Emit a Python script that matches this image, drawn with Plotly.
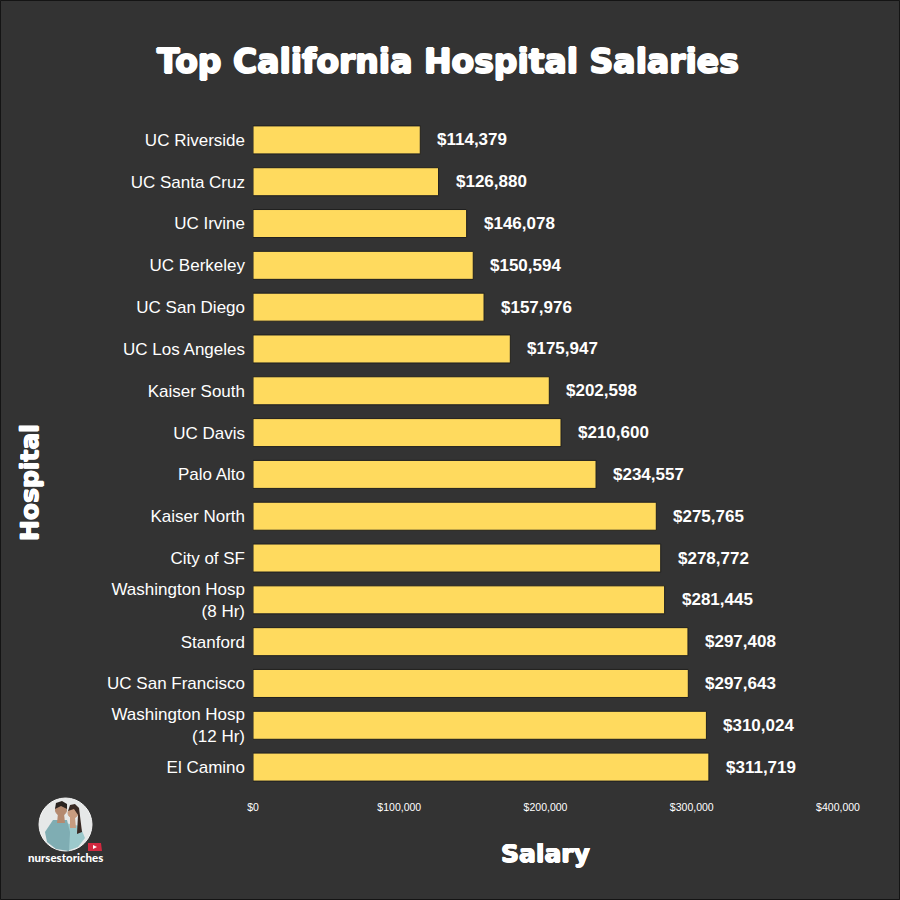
import plotly.graph_objects as go

hospitals = [
    "UC Riverside", "UC Santa Cruz", "UC Irvine", "UC Berkeley", "UC San Diego",
    "UC Los Angeles", "Kaiser South", "UC Davis", "Palo Alto", "Kaiser North",
    "City of SF", "Washington Hosp<br>(8 Hr)", "Stanford", "UC San Francisco",
    "Washington Hosp<br>(12 Hr)", "El Camino",
]
salaries = [
    114379, 126880, 146078, 150594, 157976, 175947, 202598, 210600,
    234557, 275765, 278772, 281445, 297408, 297643, 310024, 311719,
]
x_ticks = [0, 100000, 200000, 300000, 400000]

BG = "#333333"
BAR = "#ffda5e"
FONT = "Liberation Sans"
HEAVY = "1px 0 0 white, -1px 0 0 white, 0 1px 0 white, 0 -1px 0 white"
SEMI = "0.7px 0 0 white, -0.7px 0 0 white, 0 0.5px 0 white, 0 -0.5px 0 white"

# plot area in pixels, used only to place the logo and the axis titles
L, R, T, B = 253, 838, 119, 788


def px(x):
    return (x - L) / (R - L)


def py(y):
    return (B - y) / (B - T)


def circle(cx, cy, r, color, line=None):
    return dict(
        type="circle", xref="paper", yref="paper",
        x0=px(cx - r), x1=px(cx + r), y0=py(cy + r), y1=py(cy - r),
        fillcolor=color, line=dict(color=line or color, width=1),
    )


def poly(points, color):
    path = "M " + " L ".join(f"{px(x):.4f},{py(y):.4f}" for x, y in points) + " Z"
    return dict(
        type="path", xref="paper", yref="paper", path=path,
        fillcolor=color, line=dict(width=0),
    )


fig = go.Figure(
    go.Bar(
        x=salaries,
        y=hospitals,
        orientation="h",
        width=0.67,
        marker=dict(color=BAR, line=dict(color="#1f1f1f", width=1)),
        hovertemplate="%{y}: $%{x:,}<extra></extra>",
    )
)

# value labels
for name, val in zip(hospitals, salaries):
    fig.add_annotation(
        x=val, y=name, text=f"${val:,}", showarrow=False, xanchor="left",
        xshift=15, font=dict(family=FONT, size=17, color="white", weight="bold"),
    )

titles = [
    ("Top California Hospital Salaries", 448, 62, 33, 0, HEAVY),
    ("Hospital", 29, 482, 25, -90, SEMI),
    ("Salary", 545, 853, 25, 0, SEMI),
]
for text, x, y, size, angle, shadow in titles:
    fig.add_annotation(
        xref="paper", yref="paper", x=px(x), y=py(y), text=text, textangle=angle,
        xanchor="center", yanchor="middle", showarrow=False,
        font=dict(family="DejaVu Sans", size=size, color="white", weight="bold", shadow=shadow),
    )
fig.add_annotation(
    xref="paper", yref="paper", x=px(65.5), y=py(857), text="nursestoriches",
    xanchor="center", yanchor="middle", showarrow=False,
    font=dict(family="Lato", size=11.5, color="white", weight=900),
)

# logo: round photo of two people, roughly sketched
logo = [
    circle(65.5, 824.5, 26.5, "#e6e8e8", "#f4f4f4"),
    poly([(62, 822), (70, 824), (80, 826), (85, 838), (78, 847), (67, 851), (66, 830)], "#9cc9cc"),
    poly([(53, 820), (67, 820), (70, 832), (69, 851), (56, 849), (47, 842), (45, 832)], "#7fadb3"),
    poly([(58, 813), (64, 813), (65, 823), (57, 823)], "#b58a70"),
    poly([(70, 817), (75, 817), (76, 828), (70, 828)], "#c89c80"),
    circle(61, 810, 5.5, "#b58a70"),
    poly([(55, 809), (56, 803), (62, 801), (67, 804), (67, 809), (61, 806)], "#2a2320"),
    circle(73, 813, 5, "#c89c80"),
    poly([(68, 811), (70, 805), (75, 804), (79, 808), (82, 832), (77, 834), (78, 815), (74, 809)], "#3a2a24"),
    poly([(88, 843), (101, 843), (102, 851), (88, 851)], "#d2283f"),
    poly([(93, 845), (97, 847), (93, 849)], "#ffffff"),
    # thin dark frame round the whole image
    dict(
        type="rect", xref="paper", yref="paper",
        x0=px(0.5), x1=px(899.5), y0=py(899.5), y1=py(0.5),
        line=dict(color="#141414", width=1),
    ),
]

fig.update_layout(
    width=900,
    height=900,
    paper_bgcolor=BG,
    plot_bgcolor=BG,
    margin=dict(l=L, r=900 - R, t=T, b=900 - B, autoexpand=False),
    showlegend=False,
    font=dict(family=FONT, color="white"),
    shapes=logo,
    xaxis=dict(
        range=[0, 400000], tickvals=x_ticks, tickformat="$,d", showgrid=False,
        zeroline=False, showline=False, ticks="", ticklen=0, ticklabelstandoff=11,
        tickfont=dict(size=10.5, color="white"),
    ),
    yaxis=dict(
        autorange="reversed", showgrid=False, zeroline=False, showline=False,
        ticks="", ticklabelstandoff=7, tickfont=dict(size=17, color="white"),
    ),
)

fig.write_html(
    "out.html",
    config={"displayModeBar": False},
    post_script="document.body.style.margin = '0';",
)
